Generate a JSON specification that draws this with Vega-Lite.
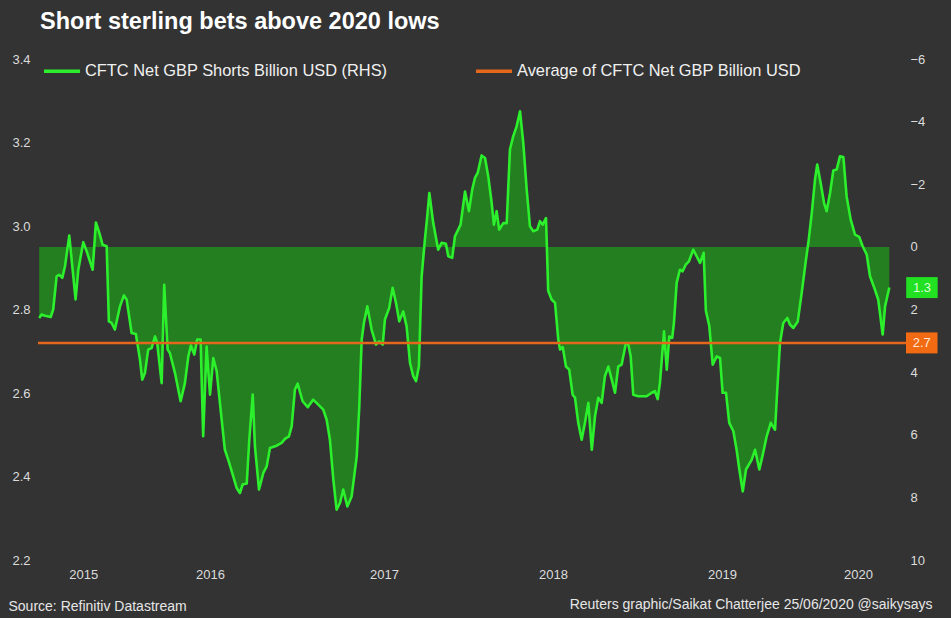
{
  "$schema": "https://vega.github.io/schema/vega-lite/v6.json",
  "width": 852,
  "height": 501,
  "autosize": {"type": "none"},
  "padding": {"left": 38, "top": 59, "right": 61, "bottom": 58},
  "background": "#333333",
  "config": {
    "view": {"stroke": null},
    "font": "Liberation Sans",
    "axis": {"grid": false, "domain": false, "ticks": false, "labelColor": "#dcdcdc", "labelFontSize": 13, "labelFont": "Liberation Sans", "labelFlush": false, "labelOverlap": false, "labelBound": false}
  },
  "title": {"text": "Short sterling bets above 2020 lows", "anchor": "start", "frame": "group", "fontSize": 23.5, "fontWeight": "bold", "color": "#ffffff", "font": "Liberation Sans", "baseline": "alphabetic", "offset": -1, "dx": 2},
  "datasets": {
    "cftc": [
      {"year": 2015.498, "value": 2.27}, {"year": 2015.512, "value": 2.16}, {"year": 2015.532, "value": 2.20}, {"year": 2015.565, "value": 2.24},
      {"year": 2015.580, "value": 2.00}, {"year": 2015.600, "value": 0.94}, {"year": 2015.615, "value": 0.89}, {"year": 2015.633, "value": 0.99},
      {"year": 2015.649, "value": 0.62}, {"year": 2015.674, "value": -0.36}, {"year": 2015.688, "value": 0.41}, {"year": 2015.711, "value": 1.68},
      {"year": 2015.727, "value": 0.73}, {"year": 2015.756, "value": -0.15}, {"year": 2015.779, "value": 0.19}, {"year": 2015.811, "value": 0.73},
      {"year": 2015.830, "value": -0.78}, {"year": 2015.850, "value": -0.45}, {"year": 2015.869, "value": -0.07}, {"year": 2015.893, "value": -0.02},
      {"year": 2015.906, "value": 2.38}, {"year": 2015.922, "value": 2.43}, {"year": 2015.941, "value": 2.64}, {"year": 2015.971, "value": 1.90},
      {"year": 2015.994, "value": 1.55}, {"year": 2016.010, "value": 1.68}, {"year": 2016.039, "value": 2.75}, {"year": 2016.064, "value": 2.78},
      {"year": 2016.088, "value": 3.60}, {"year": 2016.101, "value": 4.24}, {"year": 2016.117, "value": 4.03}, {"year": 2016.136, "value": 3.28},
      {"year": 2016.156, "value": 3.23}, {"year": 2016.176, "value": 2.86}, {"year": 2016.189, "value": 3.07}, {"year": 2016.215, "value": 4.35},
      {"year": 2016.230, "value": 1.21}, {"year": 2016.250, "value": 3.28}, {"year": 2016.263, "value": 3.39}, {"year": 2016.293, "value": 4.03},
      {"year": 2016.326, "value": 4.93}, {"year": 2016.351, "value": 4.35}, {"year": 2016.371, "value": 3.50}, {"year": 2016.386, "value": 3.15},
      {"year": 2016.406, "value": 3.44}, {"year": 2016.423, "value": 2.96}, {"year": 2016.443, "value": 2.96}, {"year": 2016.458, "value": 6.05},
      {"year": 2016.478, "value": 3.18}, {"year": 2016.498, "value": 4.72}, {"year": 2016.517, "value": 3.55}, {"year": 2016.537, "value": 3.97},
      {"year": 2016.556, "value": 4.98}, {"year": 2016.585, "value": 6.48}, {"year": 2016.605, "value": 6.80}, {"year": 2016.634, "value": 7.33},
      {"year": 2016.654, "value": 7.70}, {"year": 2016.673, "value": 7.86}, {"year": 2016.689, "value": 7.59}, {"year": 2016.713, "value": 7.56},
      {"year": 2016.728, "value": 6.16}, {"year": 2016.748, "value": 4.72}, {"year": 2016.761, "value": 6.37}, {"year": 2016.785, "value": 7.75},
      {"year": 2016.810, "value": 7.22}, {"year": 2016.830, "value": 7.01}, {"year": 2016.849, "value": 6.42}, {"year": 2016.888, "value": 6.35},
      {"year": 2016.917, "value": 6.26}, {"year": 2016.937, "value": 6.13}, {"year": 2016.960, "value": 6.05}, {"year": 2016.976, "value": 5.73},
      {"year": 2016.995, "value": 4.56}, {"year": 2017.011, "value": 4.37}, {"year": 2017.040, "value": 4.93}, {"year": 2017.070, "value": 5.12},
      {"year": 2017.102, "value": 4.88}, {"year": 2017.132, "value": 5.04}, {"year": 2017.161, "value": 5.20}, {"year": 2017.181, "value": 5.52},
      {"year": 2017.200, "value": 6.16}, {"year": 2017.220, "value": 7.43}, {"year": 2017.239, "value": 8.39}, {"year": 2017.259, "value": 8.18},
      {"year": 2017.278, "value": 7.75}, {"year": 2017.302, "value": 8.29}, {"year": 2017.327, "value": 7.97}, {"year": 2017.357, "value": 6.69},
      {"year": 2017.372, "value": 5.09}, {"year": 2017.386, "value": 2.96}, {"year": 2017.399, "value": 2.43}, {"year": 2017.419, "value": 1.90},
      {"year": 2017.444, "value": 2.64}, {"year": 2017.470, "value": 3.12}, {"year": 2017.489, "value": 3.02}, {"year": 2017.509, "value": 3.12},
      {"year": 2017.522, "value": 2.32}, {"year": 2017.547, "value": 1.95}, {"year": 2017.567, "value": 1.31}, {"year": 2017.587, "value": 1.79},
      {"year": 2017.606, "value": 2.38}, {"year": 2017.629, "value": 2.06}, {"year": 2017.649, "value": 2.54}, {"year": 2017.669, "value": 3.71},
      {"year": 2017.688, "value": 4.13}, {"year": 2017.704, "value": 4.29}, {"year": 2017.721, "value": 3.82}, {"year": 2017.737, "value": 0.94},
      {"year": 2017.756, "value": -0.23}, {"year": 2017.770, "value": -0.98}, {"year": 2017.782, "value": -1.72}, {"year": 2017.805, "value": -0.76},
      {"year": 2017.834, "value": 0.09}, {"year": 2017.854, "value": -0.13}, {"year": 2017.879, "value": -0.10}, {"year": 2017.893, "value": 0.30},
      {"year": 2017.916, "value": 0.35}, {"year": 2017.932, "value": -0.34}, {"year": 2017.951, "value": -0.55}, {"year": 2017.965, "value": -0.71},
      {"year": 2017.991, "value": -1.77}, {"year": 2018.014, "value": -1.14}, {"year": 2018.033, "value": -1.83}, {"year": 2018.049, "value": -2.20},
      {"year": 2018.065, "value": -2.36}, {"year": 2018.088, "value": -2.92}, {"year": 2018.108, "value": -2.84}, {"year": 2018.127, "value": -2.25},
      {"year": 2018.147, "value": -1.40}, {"year": 2018.160, "value": -0.71}, {"year": 2018.176, "value": -1.14}, {"year": 2018.191, "value": -0.55},
      {"year": 2018.215, "value": -0.76}, {"year": 2018.235, "value": -0.76}, {"year": 2018.254, "value": -3.11}, {"year": 2018.273, "value": -3.53},
      {"year": 2018.293, "value": -3.85}, {"year": 2018.313, "value": -4.33}, {"year": 2018.332, "value": -3.32}, {"year": 2018.352, "value": -1.83},
      {"year": 2018.371, "value": -0.66}, {"year": 2018.391, "value": -0.50}, {"year": 2018.414, "value": -0.55}, {"year": 2018.430, "value": -0.82},
      {"year": 2018.446, "value": -0.71}, {"year": 2018.465, "value": -0.92}, {"year": 2018.478, "value": 1.40}, {"year": 2018.498, "value": 1.68},
      {"year": 2018.518, "value": 1.79}, {"year": 2018.537, "value": 2.96}, {"year": 2018.547, "value": 3.28}, {"year": 2018.563, "value": 3.20},
      {"year": 2018.582, "value": 3.82}, {"year": 2018.601, "value": 3.92}, {"year": 2018.621, "value": 4.72}, {"year": 2018.635, "value": 4.82},
      {"year": 2018.654, "value": 5.62}, {"year": 2018.674, "value": 6.16}, {"year": 2018.693, "value": 5.62}, {"year": 2018.713, "value": 4.98},
      {"year": 2018.733, "value": 6.48}, {"year": 2018.752, "value": 5.41}, {"year": 2018.771, "value": 4.82}, {"year": 2018.791, "value": 4.98},
      {"year": 2018.810, "value": 4.13}, {"year": 2018.830, "value": 3.82}, {"year": 2018.850, "value": 4.24}, {"year": 2018.869, "value": 4.66},
      {"year": 2018.888, "value": 3.82}, {"year": 2018.908, "value": 3.76}, {"year": 2018.933, "value": 3.07}, {"year": 2018.947, "value": 3.12},
      {"year": 2018.961, "value": 3.50}, {"year": 2018.976, "value": 4.72}, {"year": 2019.005, "value": 4.77}, {"year": 2019.054, "value": 4.77},
      {"year": 2019.084, "value": 4.66}, {"year": 2019.103, "value": 4.61}, {"year": 2019.119, "value": 4.86}, {"year": 2019.132, "value": 4.35},
      {"year": 2019.156, "value": 2.70}, {"year": 2019.172, "value": 3.92}, {"year": 2019.187, "value": 2.86}, {"year": 2019.204, "value": 2.91},
      {"year": 2019.214, "value": 2.43}, {"year": 2019.230, "value": 1.15}, {"year": 2019.249, "value": 0.73}, {"year": 2019.265, "value": 0.78},
      {"year": 2019.283, "value": 0.57}, {"year": 2019.302, "value": 0.46}, {"year": 2019.327, "value": 0.09}, {"year": 2019.347, "value": 0.30},
      {"year": 2019.367, "value": 0.51}, {"year": 2019.388, "value": 0.19}, {"year": 2019.401, "value": 2.04}, {"year": 2019.421, "value": 2.52},
      {"year": 2019.441, "value": 3.76}, {"year": 2019.464, "value": 3.50}, {"year": 2019.484, "value": 3.55}, {"year": 2019.499, "value": 4.66},
      {"year": 2019.519, "value": 4.66}, {"year": 2019.538, "value": 5.62}, {"year": 2019.562, "value": 5.89}, {"year": 2019.581, "value": 6.48},
      {"year": 2019.597, "value": 7.11}, {"year": 2019.617, "value": 7.81}, {"year": 2019.636, "value": 7.11}, {"year": 2019.669, "value": 6.80},
      {"year": 2019.689, "value": 6.48}, {"year": 2019.714, "value": 7.11}, {"year": 2019.734, "value": 6.64}, {"year": 2019.757, "value": 6.05},
      {"year": 2019.781, "value": 5.62}, {"year": 2019.806, "value": 5.84}, {"year": 2019.819, "value": 4.56}, {"year": 2019.835, "value": 3.07},
      {"year": 2019.854, "value": 2.43}, {"year": 2019.878, "value": 2.27}, {"year": 2019.893, "value": 2.48}, {"year": 2019.913, "value": 2.59},
      {"year": 2019.939, "value": 2.38}, {"year": 2019.962, "value": 1.47}, {"year": 2019.987, "value": 0.41}, {"year": 2020.001, "value": -0.13},
      {"year": 2020.021, "value": -1.08}, {"year": 2020.040, "value": -2.15}, {"year": 2020.053, "value": -2.63}, {"year": 2020.073, "value": -2.04},
      {"year": 2020.093, "value": -1.40}, {"year": 2020.108, "value": -1.14}, {"year": 2020.128, "value": -1.72}, {"year": 2020.147, "value": -2.44},
      {"year": 2020.167, "value": -2.47}, {"year": 2020.186, "value": -2.89}, {"year": 2020.206, "value": -2.87}, {"year": 2020.225, "value": -1.61},
      {"year": 2020.249, "value": -0.87}, {"year": 2020.274, "value": -0.39}, {"year": 2020.299, "value": -0.32}, {"year": 2020.319, "value": -0.02},
      {"year": 2020.343, "value": 0.25}, {"year": 2020.362, "value": 0.94}, {"year": 2020.391, "value": 1.37}, {"year": 2020.410, "value": 1.68},
      {"year": 2020.420, "value": 2.11}, {"year": 2020.436, "value": 2.80}, {"year": 2020.450, "value": 1.90}, {"year": 2020.475, "value": 1.30}
    ],
    "latest": [{"value": 1.3, "text": "1.3"}],
    "average": [{"avg": 2.72, "text": "2.7"}]
  },
  "layer": [
    {
      "layer": [
        {
          "data": {"name": "cftc"},
          "mark": {"type": "area", "color": "#237f1f", "opacity": 1},
          "encoding": {
            "x": {"field": "year", "type": "quantitative", "scale": {"domain": [2015.491, 2020.479], "nice": false, "zero": false},
              "axis": {"values": [2015.756, 2016.498, 2017.516, 2018.506, 2019.495, 2020.292], "labelExpr": "'' + floor(datum.value)", "labelPadding": 8, "title": null}},
            "y": {"field": "value", "type": "quantitative", "scale": {"domain": [-6, 10], "reverse": true, "nice": false, "zero": false},
              "axis": {"orient": "right", "values": [-6, -4, -2, 0, 2, 4, 6, 8, 10], "labelPadding": 20, "labelAlign": "left",
                "title": "Reuters graphic/Saikat Chatterjee 25/06/2020 @saikysays", "titleAngle": 0, "titleX": 42, "titleY": 549, "titleAlign": "right", "titleBaseline": "alphabetic", "titleFontSize": 14, "titleFontWeight": "normal", "titleColor": "#e6e6e6", "titleFont": "Liberation Sans"}},
            "y2": {"datum": 0}
          }
        },
        {
          "data": {"name": "cftc"},
          "mark": {"type": "line", "strokeWidth": 2.6, "strokeJoin": "round"},
          "encoding": {
            "x": {"field": "year", "type": "quantitative", "scale": {"domain": [2015.491, 2020.479], "nice": false, "zero": false}},
            "y": {"field": "value", "type": "quantitative", "scale": {"domain": [-6, 10], "reverse": true, "nice": false, "zero": false}},
            "stroke": {"datum": "CFTC Net GBP Shorts Billion USD (RHS)",
              "scale": {"domain": ["CFTC Net GBP Shorts Billion USD (RHS)", "Average of CFTC Net GBP Billion USD"], "range": ["#2cf02c", "#e5671c"]},
              "legend": {"title": null, "orient": "none", "legendX": 4, "legendY": -8, "direction": "horizontal", "symbolType": "stroke", "symbolSize": 1300, "symbolStrokeWidth": 3.5, "labelFontSize": 16.4, "labelColor": "#f0f0f0", "labelFont": "Liberation Sans", "labelOffset": 3, "columnPadding": 80, "padding": 0, "labelLimit": 0}}
          }
        },
        {
          "data": {"name": "latest"},
          "mark": {"type": "point", "shape": "M-1.5,-1H1.5V1H-1.5Z", "filled": true, "size": 441, "color": "#22e022", "opacity": 1, "strokeWidth": 0, "clip": false},
          "encoding": {
            "x": {"datum": 2020.666, "type": "quantitative", "scale": {"domain": [2015.491, 2020.479], "nice": false, "zero": false}},
            "y": {"field": "value", "type": "quantitative", "scale": {"domain": [-6, 10], "reverse": true, "nice": false, "zero": false}}
          }
        },
        {
          "data": {"name": "latest"},
          "mark": {"type": "text", "fontSize": 13, "color": "#d8ffd8", "align": "center", "baseline": "middle", "clip": false},
          "encoding": {
            "x": {"datum": 2020.666, "type": "quantitative", "scale": {"domain": [2015.491, 2020.479], "nice": false, "zero": false}},
            "y": {"field": "value", "type": "quantitative", "scale": {"domain": [-6, 10], "reverse": true, "nice": false, "zero": false}},
            "text": {"field": "text"}
          }
        }
      ]
    },
    {
      "data": {"name": "average"},
      "layer": [
        {
          "mark": {"type": "rule", "strokeWidth": 2.5, "clip": false},
          "encoding": {
            "x": {"datum": 2015.491, "type": "quantitative", "scale": {"domain": [2015.491, 2020.479], "nice": false, "zero": false}},
            "x2": {"datum": 2020.575},
            "y": {"field": "avg", "type": "quantitative", "scale": {"domain": [2.2, 3.4], "nice": false, "zero": false},
              "axis": {"orient": "left", "values": [2.2, 2.4, 2.6, 2.8, 3.0, 3.2, 3.4], "format": ".1f", "labelPadding": 8,
                "title": "Source: Refinitiv Datastream", "titleAngle": 0, "titleX": -30, "titleY": 551, "titleAlign": "left", "titleBaseline": "alphabetic", "titleFontSize": 14, "titleFontWeight": "normal", "titleColor": "#e6e6e6", "titleFont": "Liberation Sans"}},
            "stroke": {"datum": "Average of CFTC Net GBP Billion USD"}
          }
        },
        {
          "mark": {"type": "point", "shape": "M-1.5,-1H1.5V1H-1.5Z", "filled": true, "size": 441, "color": "#f26a12", "opacity": 1, "strokeWidth": 0, "clip": false},
          "encoding": {
            "x": {"datum": 2020.665, "type": "quantitative", "scale": {"domain": [2015.491, 2020.479], "nice": false, "zero": false}},
            "y": {"field": "avg", "type": "quantitative", "scale": {"domain": [2.2, 3.4], "nice": false, "zero": false}}
          }
        },
        {
          "mark": {"type": "text", "fontSize": 13, "color": "#ffe6d6", "align": "center", "baseline": "middle", "clip": false},
          "encoding": {
            "x": {"datum": 2020.665, "type": "quantitative", "scale": {"domain": [2015.491, 2020.479], "nice": false, "zero": false}},
            "y": {"field": "avg", "type": "quantitative", "scale": {"domain": [2.2, 3.4], "nice": false, "zero": false}},
            "text": {"field": "text"}
          }
        }
      ]
    }
  ],
  "resolve": {"scale": {"y": "independent"}}
}
